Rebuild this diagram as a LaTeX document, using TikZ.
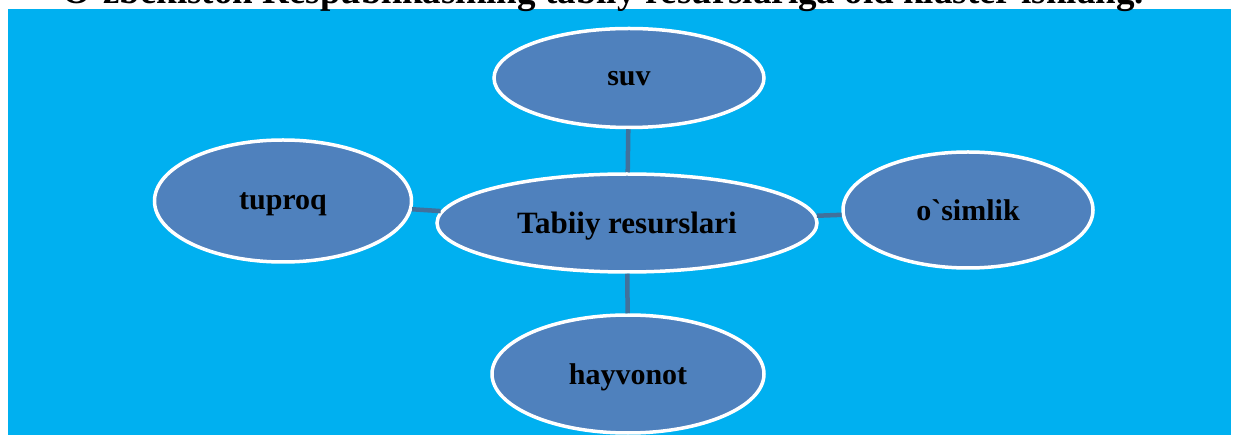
\documentclass[tikz,border=0pt]{standalone}
\usepackage{fontspec}
\setmainfont{Liberation Serif}
\usetikzlibrary{shapes.geometric}

\definecolor{skyblue}{HTML}{00B0F0}
\definecolor{bubble}{HTML}{4F81BD}
\definecolor{linkblue}{HTML}{41719C}

\tikzset{
	bubble/.style = {ellipse, draw = white, line width = 3.5pt, fill = bubble,
		inner sep = 0pt, text depth = 0pt, yshift = 0pt,
		font = \bfseries\fontsize{30}{30}\selectfont},
	link/.style = {draw = linkblue, line width = 4.5pt}
}

\begin{document}
\begin{tikzpicture}[x = 1pt, y = -1pt]
	
	% Page and background
	
	\useasboundingbox (0, 0) rectangle (1234, 435);
	\clip (0, 0) rectangle (1234, 435);
	\fill [skyblue] (8, 9) rectangle (1231, 440);
	
	% Title, cut by the page edge
	
	\node (title) [anchor = base, font = \bfseries\fontsize{37}{37}\selectfont]
		at (603, 4) {O\textasciigrave zbekiston Respublikasining tabiiy resurslariga oid klaster ishlang.};
	
	% The cluster
	
	\node (tabiiy) [bubble, minimum width = 380pt, minimum height = 98pt,
		font = \bfseries\fontsize{31}{31}\selectfont] at (627, 223) {Tabiiy resurslari};
	\node (suv) [bubble, minimum width = 270pt, minimum height = 99pt] at (629, 78) {suv};
	\node (tuproq) [bubble, minimum width = 257pt, minimum height = 122pt] at (283, 201) {tuproq};
	\node (osimlik) [bubble, minimum width = 250pt, minimum height = 116pt] at (968, 210) {o\textasciigrave simlik};
	\node (hayvonot) [bubble, minimum width = 272pt, minimum height = 118pt] at (628, 374) {hayvonot};
	
	% Links to the centre
	
	\begin{scope}[link]
	
		\draw (suv) -- (tabiiy);
		\draw (tuproq) -- (tabiiy);
		\draw (osimlik) -- (tabiiy);
		\draw (hayvonot) -- (tabiiy);
		
	\end{scope}

\end{tikzpicture}
\end{document}
